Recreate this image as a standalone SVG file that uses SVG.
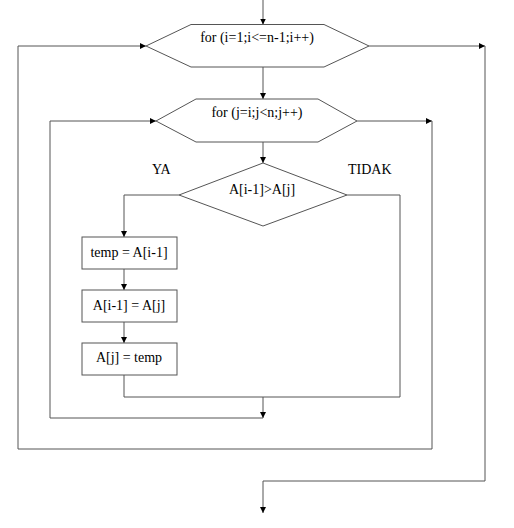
<svg xmlns="http://www.w3.org/2000/svg" width="514" height="528" viewBox="0 0 514 528">
<style>
.s{fill:#fff;stroke:#555;stroke-width:1}
.c{fill:none;stroke:#555;stroke-width:1}
.a{marker-end:url(#ah)}
text{font-family:"Liberation Serif","Times New Roman",serif;font-size:14px;fill:#000}
.m{text-anchor:middle}
</style>
<defs>
<marker id="ah" markerWidth="6" markerHeight="6" refX="6" refY="3" orient="auto" markerUnits="userSpaceOnUse">
<path d="M0,0 L6,3 L0,6 Z" fill="#000"/>
</marker>
</defs>
<rect width="514" height="528" fill="#fff"/>
<g id="connectors">
<path class="c a" d="M263,0 V24.5"/>
<path class="c a" d="M263,67 V99"/>
<path class="c a" d="M263,142 V163"/>
<path class="c a" d="M179,195 H124 V237"/>
<path class="c a" d="M124,269 V290"/>
<path class="c a" d="M124,322 V343"/>
<path class="c" d="M124,375 V397 H400 V195 H347"/>
<path class="c a" d="M263,397 V418"/>
<path class="c a" d="M263,418 H50 V121 H156"/>
<path class="c a" d="M357,121 H432"/>
<path class="c a" d="M432,121 V449 H18 V46 H146"/>
<path class="c a" d="M369,46 H485"/>
<path class="c a" d="M485,46 V481 H263 V513"/>
</g>
<g id="loop-i">
<polygon class="s" points="146,46 191,24.5 324,24.5 369,46 324,67 191,67"/>
<text class="m" x="257" y="42">for (i=1;i&lt;=n-1;i++)</text>
</g>
<g id="loop-j">
<polygon class="s" points="156,121 196,99 318,99 357,121 318,142 196,142"/>
<text class="m" x="257" y="117">for (j=i;j&lt;n;j++)</text>
</g>
<g id="decision">
<polygon class="s" points="263,163 347,195 263,226 179,195"/>
<text class="m" x="262" y="194">A[i-1]&gt;A[j]</text>
</g>
<g id="label-ya"><text x="152" y="174">YA</text></g>
<g id="label-tidak"><text x="348" y="174">TIDAK</text></g>
<g id="box1">
<rect class="s" x="82" y="237" width="95" height="32"/>
<text class="m" x="129" y="257">temp = A[i-1]</text>
</g>
<g id="box2">
<rect class="s" x="82" y="290" width="95" height="32"/>
<text class="m" x="129" y="310">A[i-1] = A[j]</text>
</g>
<g id="box3">
<rect class="s" x="82" y="343" width="95" height="32"/>
<text class="m" x="129" y="362">A[j] = temp</text>
</g>
</svg>
